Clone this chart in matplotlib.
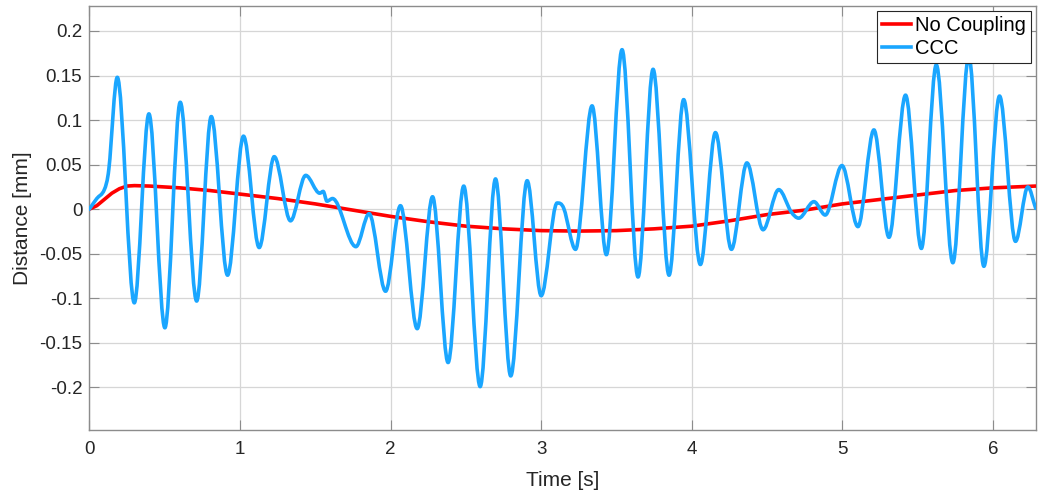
import numpy as np
import matplotlib.pyplot as plt
from matplotlib.path import Path
from matplotlib.patches import PathPatch
from matplotlib.lines import Line2D

plt.rcParams['font.family'] = ['Liberation Sans', 'DejaVu Sans']
plt.rcParams['axes.unicode_minus'] = False

# values (time in s, distance in mm)
nc_time = [0.0, 0.05, 0.1, 0.15, 0.2, 0.25, 0.3, 0.4, 0.6, 0.8, 1.0, 1.25, 1.5,
           1.75, 2.0, 2.25, 2.5, 2.75, 3.0, 3.25, 3.5, 3.75, 4.0, 4.25, 4.5,
           4.75, 5.0, 5.25, 5.5, 5.75, 6.0, 6.283]
nc_dist = [0.0, 0.004, 0.011, 0.018, 0.023, 0.026, 0.0265, 0.026, 0.024, 0.021,
           0.017, 0.012, 0.006, -0.001, -0.008, -0.014, -0.019, -0.022, -0.024,
           -0.0245, -0.024, -0.022, -0.019, -0.013, -0.006, -0.001, 0.006,
           0.011, 0.016, 0.021, 0.024, 0.026]

ccc_time = [0.000, 0.050, 0.100, 0.130, 0.186, 0.299, 0.396, 0.502, 0.604, 0.713,
            0.810, 0.918, 1.024, 1.128, 1.228, 1.336, 1.437, 1.530, 1.553, 1.578,
            1.615, 1.770, 1.858, 1.967, 2.066, 2.177, 2.279, 2.382, 2.486, 2.595,
            2.697, 2.798, 2.907, 3.000, 3.106, 3.150, 3.228, 3.338, 3.433, 3.537,
            3.643, 3.743, 3.849, 3.946, 4.057, 4.157, 4.263, 4.366, 4.473, 4.577,
            4.660, 4.710, 4.811, 4.886, 4.997, 5.103, 5.209, 5.309, 5.419, 5.524,
            5.623, 5.733, 5.839, 5.939, 6.043, 6.149, 6.231, 6.283]
ccc_dist = [0.000, 0.012, 0.022, 0.045, 0.148, -0.105, 0.107, -0.133, 0.120, -0.103,
            0.104, -0.074, 0.082, -0.043, 0.059, -0.013, 0.038, 0.018, 0.020, 0.009,
            0.012, -0.042, -0.005, -0.092, 0.004, -0.134, 0.014, -0.172, 0.026, -0.199,
            0.034, -0.187, 0.032, -0.097, 0.007, 0.001, -0.045, 0.116, -0.051, 0.179,
            -0.076, 0.157, -0.074, 0.123, -0.062, 0.086, -0.045, 0.052, -0.023, 0.022,
            -0.003, -0.010, 0.0085, -0.0065, 0.049, -0.0195, 0.089, -0.0315, 0.128, -0.044,
            0.162, -0.060, 0.172, -0.064, 0.127, -0.036, 0.025, 0.001]

x_ticks = [0, 1, 2, 3, 4, 5, 6]
y_ticks = [-0.2, -0.15, -0.1, -0.05, 0, 0.05, 0.1, 0.15, 0.2]
y_labels = ['-0.2', '-0.15', '-0.1', '-0.05', '0', '0.05', '0.1', '0.15', '0.2']

RED = '#FF0000'
BLUE = '#1AA6FF'
TXT = '#262626'


def smooth_path(t, y):
    # cubic Bezier segments through the read points, flat at local extrema
    n = len(t)
    m = []
    for i in range(n):
        if i == 0:
            s = (y[1] - y[0]) / (t[1] - t[0])
        elif i == n - 1:
            s = (y[-1] - y[-2]) / (t[-1] - t[-2])
        elif (y[i] - y[i - 1]) * (y[i + 1] - y[i]) <= 0:
            s = 0.0
        else:
            s = (y[i + 1] - y[i - 1]) / (t[i + 1] - t[i - 1])
        m.append(s)
    verts = [(t[0], y[0])]
    codes = [Path.MOVETO]
    for i in range(n - 1):
        h = t[i + 1] - t[i]
        verts += [(t[i] + h / 3, y[i] + m[i] * h / 3),
                  (t[i + 1] - h / 3, y[i + 1] - m[i + 1] * h / 3),
                  (t[i + 1], y[i + 1])]
        codes += [Path.CURVE4] * 3
    return Path(verts, codes)


fig = plt.figure(figsize=(10.38, 4.94), dpi=100)
ax = fig.add_axes([0.086, 0.129, 0.9118, 0.8588])

ax.plot(nc_time, nc_dist, color=RED, lw=2.6, solid_capstyle='round', zorder=3)
ax.add_patch(PathPatch(smooth_path(ccc_time, ccc_dist), fill=False, edgecolor=BLUE,
                       lw=2.6, capstyle='round', joinstyle='round', zorder=4))

ax.set_xlim(0, 2 * np.pi)
ax.set_ylim(-0.248, 0.228)
ax.set_xticks(x_ticks)
ax.set_yticks(y_ticks)
ax.set_yticklabels(y_labels)
ax.grid(True, color='#D6D6D6', lw=0.9)
ax.set_axisbelow(True)
for sp in ax.spines.values():
    sp.set_color('#8C8C8C')
    sp.set_linewidth(1.0)
ax.tick_params(direction='in', length=7, width=0.8, color='#8C8C8C',
               top=True, right=True, labelsize=13.5, labelcolor=TXT)
ax.tick_params(axis='x', pad=8)
ax.tick_params(axis='y', pad=5)

ax.set_xlabel('Time [s]', fontsize=15, color=TXT, labelpad=9)
ax.set_ylabel('Distance [mm]', fontsize=15, color=TXT, labelpad=5)

# legend handles for the two series
handles = [Line2D([], [], color=RED, lw=2.6), Line2D([], [], color=BLUE, lw=2.6)]
leg = ax.legend(handles, ['No Coupling', 'CCC'], loc='upper right', fontsize=14.5,
                fancybox=False, framealpha=1, edgecolor='#262626',
                borderpad=0.25, labelspacing=0.2, handlelength=1.45,
                handletextpad=0.2, borderaxespad=0.25)
leg.get_frame().set_linewidth(0.8)
for txt in leg.get_texts():
    txt.set_color('black')

fig.savefig('out.png', dpi=100)
